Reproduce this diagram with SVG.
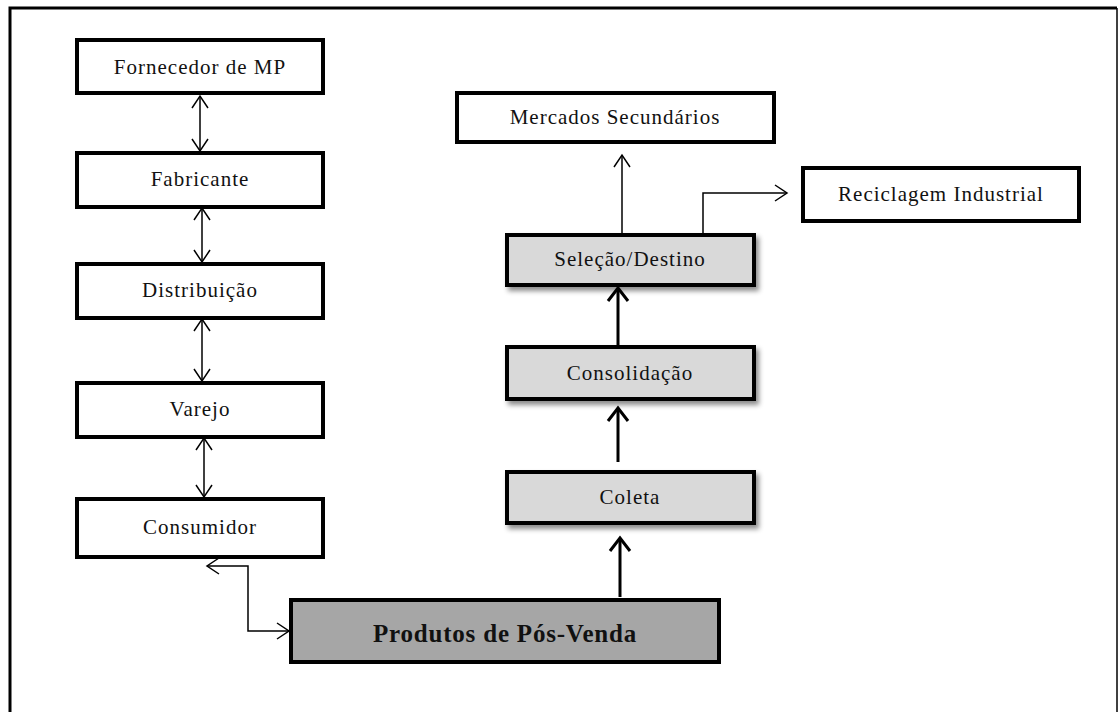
<svg xmlns="http://www.w3.org/2000/svg" width="1119" height="712" viewBox="0 0 1119 712">
  <style>
    .box { fill: #ffffff; stroke: #000000; stroke-width: 4; }
    .light { fill: #d9d9d9; stroke: #000000; stroke-width: 4; filter: url(#shadow); }
    .dark { fill: #a6a6a6; stroke: #000000; stroke-width: 4; }
    .lbl { font-family: "Liberation Serif", "Times New Roman", serif; font-size: 21px; letter-spacing: 1px; fill: #111111; text-anchor: middle; }
    .big { font-family: "Liberation Serif", "Times New Roman", serif; font-size: 25px; letter-spacing: 0.8px; font-weight: bold; fill: #111111; text-anchor: middle; }
    .thin { fill: none; stroke: #000000; stroke-width: 1.5; }
    .thick { fill: none; stroke: #000000; stroke-width: 3; }
  </style>
  <defs>
    <filter id="shadow" x="-10%" y="-20%" width="130%" height="160%">
      <feDropShadow dx="3" dy="4" stdDeviation="2.5" flood-color="#000000" flood-opacity="0.45"/>
    </filter>
    <marker id="headThin" markerUnits="userSpaceOnUse" markerWidth="18" markerHeight="18" refX="14" refY="8" orient="auto-start-reverse" overflow="visible">
      <path d="M2,0 L14,8 L2,16" fill="none" stroke="#000000" stroke-width="1.5"/>
    </marker>
    <marker id="headThick" markerUnits="userSpaceOnUse" markerWidth="22" markerHeight="22" refX="15" refY="10" orient="auto-start-reverse" overflow="visible">
      <path d="M2,0 L15,10 L2,20" fill="none" stroke="#000000" stroke-width="3"/>
    </marker>
  </defs>

  <rect width="1119" height="712" fill="#ffffff"/>

  <!-- outer frame (bottom edge runs past the page) -->
  <g id="frame" fill="none" stroke="#000000">
    <path d="M10,720 L10,8 L1117,8" stroke-width="3"/>
    <path d="M1117,8 L1117,720" stroke-width="1.5"/>
  </g>

  <!-- connectors -->
  <g id="connectors">
    <path class="thin" d="M200,96 L200,151" marker-start="url(#headThin)" marker-end="url(#headThin)"/>
    <path class="thin" d="M202,208 L202,262" marker-start="url(#headThin)" marker-end="url(#headThin)"/>
    <path class="thin" d="M202,319 L202,381" marker-start="url(#headThin)" marker-end="url(#headThin)"/>
    <path class="thin" d="M204,438 L204,497" marker-start="url(#headThin)" marker-end="url(#headThin)"/>
    <path class="thin" d="M207,566 L248,566 L248,631 L289,631" marker-start="url(#headThin)" marker-end="url(#headThin)"/>
    <path class="thick" d="M620,597 L620,538" marker-end="url(#headThick)"/>
    <path class="thick" d="M618,462 L618,408" marker-end="url(#headThick)"/>
    <path class="thick" d="M618,346 L618,288" marker-end="url(#headThick)"/>
    <path class="thin" d="M622,233 L622,155" marker-end="url(#headThin)"/>
    <path class="thin" d="M703,233 L703,193 L787,193" marker-end="url(#headThin)"/>
  </g>

  <!-- forward chain -->
  <g id="fornecedor">
    <rect class="box" x="77" y="40" width="246" height="53"/>
    <text class="lbl" x="200" y="74">Fornecedor de MP</text>
  </g>
  <g id="fabricante">
    <rect class="box" x="77" y="153" width="246" height="54"/>
    <text class="lbl" x="200" y="186">Fabricante</text>
  </g>
  <g id="distribuicao">
    <rect class="box" x="77" y="264" width="246" height="54"/>
    <text class="lbl" x="200" y="297">Distribuição</text>
  </g>
  <g id="varejo">
    <rect class="box" x="77" y="383" width="246" height="54"/>
    <text class="lbl" x="200" y="416">Varejo</text>
  </g>
  <g id="consumidor">
    <rect class="box" x="77" y="499" width="246" height="58"/>
    <text class="lbl" x="200" y="534">Consumidor</text>
  </g>

  <!-- reverse chain -->
  <g id="pos-venda">
    <rect class="dark" x="291" y="600" width="428" height="62"/>
    <text class="big" x="505" y="642">Produtos de Pós-Venda</text>
  </g>
  <g id="coleta">
    <rect class="light" x="507" y="472" width="247" height="51"/>
    <text class="lbl" x="630" y="504">Coleta</text>
  </g>
  <g id="consolidacao">
    <rect class="light" x="507" y="347" width="247" height="52"/>
    <text class="lbl" x="630" y="380">Consolidação</text>
  </g>
  <g id="selecao">
    <rect class="light" x="507" y="235" width="247" height="50"/>
    <text class="lbl" x="630" y="266">Seleção/Destino</text>
  </g>
  <g id="mercados">
    <rect class="box" x="457" y="93" width="317" height="49"/>
    <text class="lbl" x="615" y="124">Mercados Secundários</text>
  </g>
  <g id="reciclagem">
    <rect class="box" x="803" y="168" width="276" height="53"/>
    <text class="lbl" x="941" y="201">Reciclagem Industrial</text>
  </g>
</svg>
